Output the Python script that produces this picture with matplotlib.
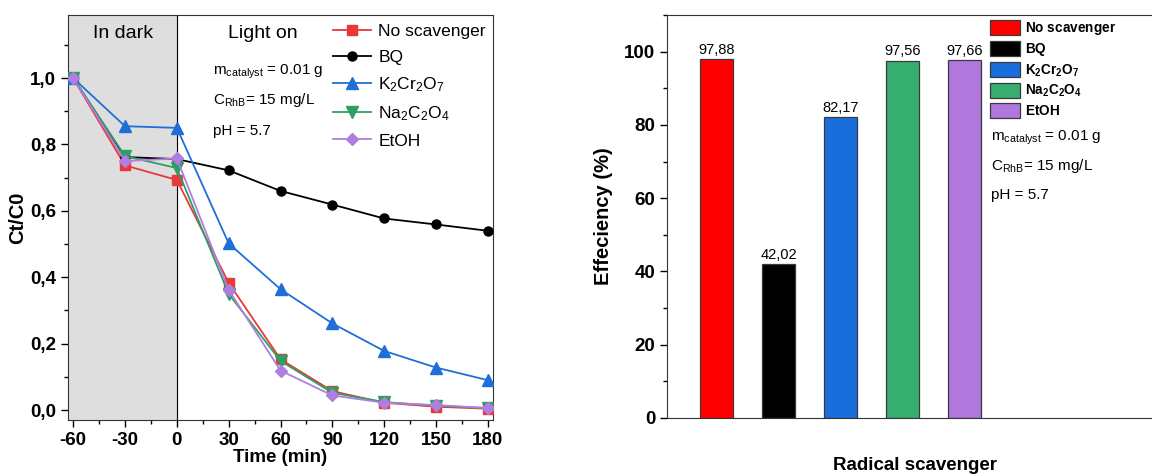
"""Scavenger test: Ct/C0 kinetics and removal efficiency, two panels."""

import matplotlib

matplotlib.use("Agg")
import matplotlib.pyplot as plt
from matplotlib.patches import Patch
from matplotlib.ticker import FixedLocator, FuncFormatter, MultipleLocator

plt.rcParams["font.family"] = ["Liberation Sans", "DejaVu Sans"]
plt.rcParams["mathtext.fontset"] = "custom"
plt.rcParams["mathtext.rm"] = "Liberation Sans"
plt.rcParams["mathtext.it"] = "Liberation Sans:italic"
plt.rcParams["mathtext.bf"] = "Liberation Sans:bold"
plt.rcParams["axes.unicode_minus"] = False

# ---- data -------------------------------------------------------------
time_min = [-60, -30, 0, 30, 60, 90, 120, 150, 180]
no_scavenger = [1.0, 0.737, 0.693, 0.383, 0.153, 0.057, 0.022, 0.010, 0.004]
bq = [1.0, 0.762, 0.756, 0.722, 0.660, 0.619, 0.577, 0.559, 0.540]
k2cr2o7 = [1.0, 0.855, 0.850, 0.502, 0.364, 0.261, 0.178, 0.128, 0.090]
na2c2o4 = [1.0, 0.765, 0.729, 0.350, 0.148, 0.052, 0.024, 0.013, 0.006]
etoh = [1.0, 0.750, 0.758, 0.362, 0.119, 0.044, 0.022, 0.015, 0.006]

scavengers = ["No scavenger", "BQ", "K$_2$Cr$_2$O$_7$", "Na$_2$C$_2$O$_4$", "EtOH"]
scavengers_bold = [r"$\mathbf{No\ scavenger}$", r"$\mathbf{BQ}$",
                   r"$\mathbf{K_2Cr_2O_7}$", r"$\mathbf{Na_2C_2O_4}$", r"$\mathbf{EtOH}$"]
efficiency = [97.88, 42.02, 82.17, 97.56, 97.66]

line_colors = ["#e8383a", "#000000", "#1f6fd8", "#2e9f63", "#b07ee0"]
bar_colors = ["#ff0000", "#000000", "#1a6edb", "#35ae6e", "#b077dd"]
markers = ["s", "o", "^", "v", "D"]
msizes = [6.5, 6.5, 8, 8, 6.5]

conditions = [r"m$_{\mathrm{catalyst}}$ = 0.01 g", r"C$_{\mathrm{RhB}}$= 15 mg/L", "pH = 5.7"]

TICK_FS = 13.5

fig = plt.figure(figsize=(11.52, 4.74), dpi=100)

# ---- left panel: kinetics ---------------------------------------------
ax = fig.add_axes([68 / 1152, 54 / 474, 425 / 1152, 405 / 474])
ax.axvspan(-63, 0, color="#dedede", zorder=0)
ax.axvline(0, color="black", lw=0.8, zorder=1)

series = [no_scavenger, bq, k2cr2o7, na2c2o4, etoh]
for vals, label, c, m, ms in zip(series, scavengers, line_colors, markers, msizes):
    ax.plot(time_min, vals, color=c, marker=m, markersize=ms, lw=1.3, label=label, zorder=3)

ax.set_xlim(-63, 183)
ax.set_ylim(-0.03, 1.19)
ax.xaxis.set_major_locator(FixedLocator(time_min))
ax.xaxis.set_minor_locator(MultipleLocator(15))
ax.yaxis.set_major_locator(FixedLocator([0, 0.2, 0.4, 0.6, 0.8, 1.0]))
ax.yaxis.set_minor_locator(MultipleLocator(0.1))
ax.yaxis.set_major_formatter(FuncFormatter(lambda v, p: f"{v:.1f}".replace(".", ",")))
ax.tick_params(which="both", direction="out", width=1)
ax.tick_params(which="major", length=5, labelsize=TICK_FS)
ax.tick_params(which="minor", length=3)
for lab in ax.get_xticklabels() + ax.get_yticklabels():
    lab.set_fontweight("bold")
for sp in ax.spines.values():
    sp.set_color("#333333")

ax.set_xlabel("Time (min)", fontsize=TICK_FS, fontweight="bold", labelpad=0)
ax.set_ylabel("Ct/C0", fontsize=14.5, fontweight="bold", labelpad=2)

ax.text(-31, 1.133, "In dark", fontsize=14, ha="center", va="center")
ax.text(50, 1.133, "Light on", fontsize=14, ha="center", va="center")
for txt, yv in zip(conditions, [1.018, 0.934, 0.841]):
    ax.text(21, yv, txt, fontsize=11, ha="left", va="center")

ax.legend(loc="upper left", bbox_to_anchor=(333 / 1152, 1 - 24 / 474),
          bbox_transform=fig.transFigure, frameon=False, fontsize=12.5,
          handlelength=2.2, handletextpad=0.4, labelspacing=0.6,
          borderpad=0, borderaxespad=0)

# ---- right panel: efficiency bars -------------------------------------
bx = fig.add_axes([667 / 1152, 56 / 474, 496 / 1152, 403 / 474])
pos = list(range(1, len(efficiency) + 1))
bars = bx.bar(pos, efficiency, width=0.52, color=bar_colors,
              edgecolor="#3a3a3a", linewidth=0.9, zorder=2)
for rect, val in zip(bars, efficiency):
    bx.text(rect.get_x() + rect.get_width() / 2, val + 0.6,
            f"{val:.2f}".replace(".", ","), ha="center", va="bottom", fontsize=10.5)

bx.set_xlim(0.2, 8.2)
bx.set_ylim(0, 110)
bx.set_xticks([])
bx.yaxis.set_major_locator(MultipleLocator(20))
bx.yaxis.set_minor_locator(MultipleLocator(10))
bx.tick_params(which="both", direction="out", width=1)
bx.tick_params(which="major", length=5, labelsize=TICK_FS)
bx.tick_params(which="minor", length=3)
for lab in bx.get_yticklabels():
    lab.set_fontweight("bold")
for sp in bx.spines.values():
    sp.set_color("#333333")
bx.spines["right"].set_visible(False)

bx.set_xlabel("Radical scavenger", fontsize=TICK_FS, fontweight="bold", labelpad=28)
bx.set_ylabel("Effeciency (%)", fontsize=14.5, fontweight="bold", labelpad=8)

handles = [Patch(facecolor=c, edgecolor="#3a3a3a", linewidth=0.9) for c in bar_colors]
bx.legend(handles, scavengers_bold, loc="upper left",
          bbox_to_anchor=(990 / 1152, 1 - 20 / 474), bbox_transform=fig.transFigure,
          frameon=False, fontsize=9.8, handlelength=2.2, handleheight=1.3,
          handletextpad=0.35, labelspacing=0.3, borderpad=0, borderaxespad=0)
for txt, yv in zip(conditions, [76.6, 68.9, 60.8]):
    bx.text(5.42, yv, txt, fontsize=11, ha="left", va="center")

fig.savefig("out.png", dpi=100)
